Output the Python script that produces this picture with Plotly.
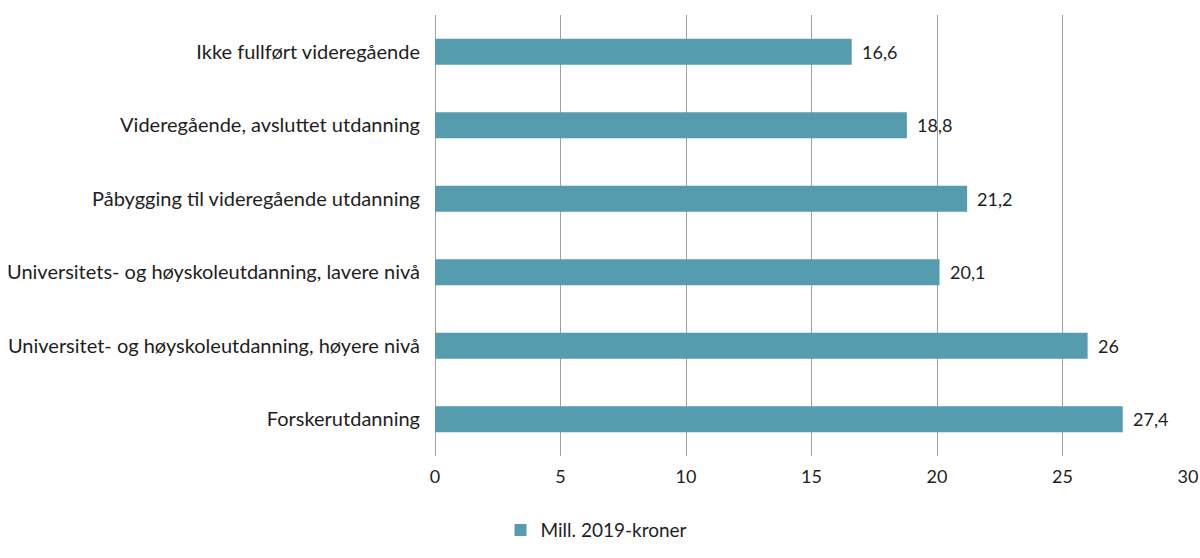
import plotly.graph_objects as go

categories = [
    "Ikke fullført videregående",
    "Videregående, avsluttet utdanning",
    "Påbygging til videregående utdanning",
    "Universitets- og høyskoleutdanning, lavere nivå",
    "Universitet- og høyskoleutdanning, høyere nivå",
    "Forskerutdanning",
]
values = [16.6, 18.8, 21.2, 20.1, 26, 27.4]
series_name = "Mill. 2019-kroner"
x_ticks = [0, 5, 10, 15, 20, 25, 30]

labels = [f"{v:g}".replace(".", ",") for v in values]

FONT = "Lato"

fig = go.Figure()
fig.add_trace(go.Bar(
    x=values, y=categories, orientation="h", name=series_name,
    marker=dict(color="#559cae", line=dict(width=0)),
    showlegend=True,
))

for v, c, t in zip(values, categories, labels):
    fig.add_annotation(x=v, y=c, text=t, showarrow=False, xanchor="left",
                       xshift=8, font=dict(family=FONT, size=18, color="#1e1e1e"))

fig.update_layout(
    width=1200, height=558,
    margin=dict(l=435, r=12, t=15, b=102, autoexpand=False),
    paper_bgcolor="white", plot_bgcolor="white",
    font=dict(family=FONT, size=20, color="#1e1e1e"),
    separators=", ",
    bargap=0.645,
    xaxis=dict(range=[0, 30], tickvals=x_ticks, showgrid=True, gridcolor="#a0a0a0",
               gridwidth=1, zeroline=True, zerolinecolor="#a0a0a0", zerolinewidth=1,
               showline=False, ticks="", automargin=False,
               tickfont=dict(size=18), ticklabelstandoff=8),
    yaxis=dict(autorange="reversed", showgrid=False, zeroline=False, showline=False,
               ticks="", ticklabelstandoff=14, automargin=False, tickfont=dict(size=20)),
    legend=dict(orientation="h", x=0.087, xanchor="left", y=-0.168, yanchor="middle",
                font=dict(size=19)),
)

fig.write_html("out.html", config={"displayModeBar": False},
               post_script="document.body.style.margin='0';")
